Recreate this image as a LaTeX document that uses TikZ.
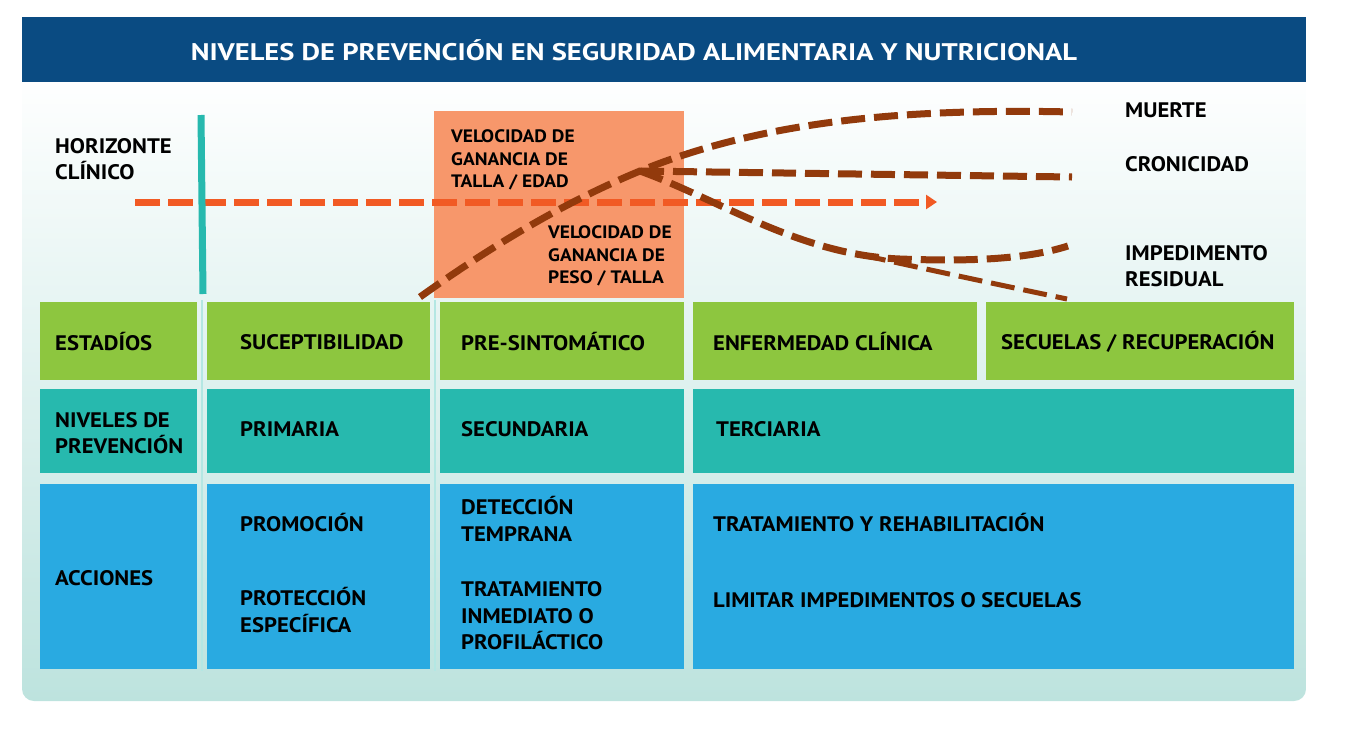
\documentclass[tikz,border=0pt]{standalone}
\usepackage{fontspec}
\setmainfont{PT Sans}[FakeStretch=1.08]
\newfontfamily\titlefont{PT Sans}[FakeStretch=1.19]
\usetikzlibrary{arrows.meta}
\definecolor{navy}{HTML}{0A4B82}
\definecolor{leaf}{HTML}{8DC63F}
\definecolor{lagoon}{HTML}{27B9AE}
\definecolor{sky}{HTML}{29AAE1}
\definecolor{salmon}{HTML}{F7976B}
\definecolor{flame}{HTML}{F15A24}
\definecolor{rust}{HTML}{923A0C}
\definecolor{mist}{HTML}{BDE3DE}

\begin{document}
\begin{tikzpicture}[x=1pt,y=-1pt,>=Latex,
  cellbox/.style={anchor=north west,inner sep=0,outer sep=0},
  lbl/.style={anchor=west,inner sep=0,align=left,font=\fontsize{21}{26.5}\selectfont\bfseries},
  smalllbl/.style={anchor=west,inner sep=0,align=left,font=\fontsize{18}{22.5}\selectfont\bfseries},
  rustline/.style={rust,dash pattern=on 24pt off 9pt,line width=7pt}]
\useasboundingbox (0,0) rectangle (1351,739);
\shade[top color=white,bottom color=mist,rounded corners=12pt] (22,70) rectangle (1306,701);
\node[cellbox,fill=navy,minimum width=1284pt,minimum height=65pt] (title) at (22,17) {};
\node[text=white,inner sep=0,font=\titlefont\fontsize{24}{28}\selectfont\bfseries] (titletext) at (634,50) {NIVELES DE PREVENCIÓN EN SEGURIDAD ALIMENTARIA Y NUTRICIONAL};
\draw[lagoon!35,line width=1.5pt] (202,300)--(202,671);\draw[lagoon!35,line width=1.5pt] (435,300)--(435,671);
\foreach \id/\x/\y/\w/\h/\c in {e1/40/302/157/78/leaf,e2/207/302/223/78/leaf,e3/440/302/244/78/leaf,e4/693/302/284/78/leaf,e5/986/302/308/78/leaf,
  n1/40/389/157/84/lagoon,n2/207/389/223/84/lagoon,n3/440/389/244/84/lagoon,n4/693/389/601/84/lagoon,
  a1/40/484/157/185/sky,a2/207/484/223/185/sky,a3/440/484/244/185/sky,a4/693/484/601/185/sky}
  \node[cellbox,fill=\c,minimum width=\w pt,minimum height=\h pt] (\id) at (\x,\y) {};
\foreach \id/\x/\y/\t in {te1/55/342/ESTADÍOS,te2/240/342/SUCEPTIBILIDAD,te3/461/342/PRE-SINTOMÁTICO,te4/713/342/ENFERMEDAD CLÍNICA,te5/1001/342/{SECUELAS / RECUPERACIÓN},
  tn1/55/433/{NIVELES DE\\PREVENCIÓN},tn2/240/429/PRIMARIA,tn3/461/429/SECUNDARIA,tn4/716/429/TERCIARIA,
  ta1/55/578/ACCIONES,ta2/240/523/PROMOCIÓN,ta3/240/610/{PROTECCIÓN\\ESPECÍFICA},ta4/461/519/{DETECCIÓN\\TEMPRANA},ta5/461/616/{TRATAMIENTO\\INMEDIATO O\\PROFILÁCTICO},
  ta6/713/523/TRATAMIENTO Y REHABILITACIÓN,ta7/713/600/LIMITAR IMPEDIMENTOS O SECUELAS}
  \node[lbl] (\id) at (\x,\y) {\t};
\node[cellbox,fill=salmon,minimum width=250pt,minimum height=187pt] (vel) at (434,111) {};
\node[smalllbl] (talla) at (451,160) {VELOCIDAD DE\\GANANCIA DE\\TALLA / EDAD};
\node[smalllbl] (peso) at (548,256) {VELOCIDAD DE\\GANANCIA DE\\PESO / TALLA};
\node[lbl] (horizon) at (55,159) {HORIZONTE\\CLÍNICO};
\coordinate (hstart) at (135,202);\coordinate (hend) at (937,202);
\draw[flame,line width=7pt,dash pattern=on 25pt off 8pt,-{Triangle[length=11pt,width=14pt]}] (hstart)--(hend);
\coordinate (bartop) at (201,115);\coordinate (barfoot) at (203,294);
\draw[lagoon,line width=7pt] (bartop)--(barfoot);
\coordinate (onset) at (420,297);\coordinate (fork) at (640,171);
\coordinate (death) at (1072,112);\coordinate (chronic) at (1072,177);\coordinate (impair) at (1068,246);\coordinate (resid) at (1067,299);
\draw[rustline] (onset) .. controls (500,240) and (570,200) .. (fork) .. controls (760,122) and (900,108) .. (death);
\draw[rustline] (fork)--(chronic);
\draw[rustline] (fork) .. controls (720,200) and (800,255) .. (900,259) .. controls (980,262) and (1030,258) .. (impair);
\draw[rustline,line width=5pt] (862,255) .. controls (930,270) and (1000,285) .. (resid);
\foreach \id/\y/\t in {muerte/110/MUERTE,cronic/164/CRONICIDAD,residual/266/{IMPEDIMENTO\\RESIDUAL}}
  \node[lbl] (\id) at (1125,\y) {\t};
\end{tikzpicture}
\end{document}
